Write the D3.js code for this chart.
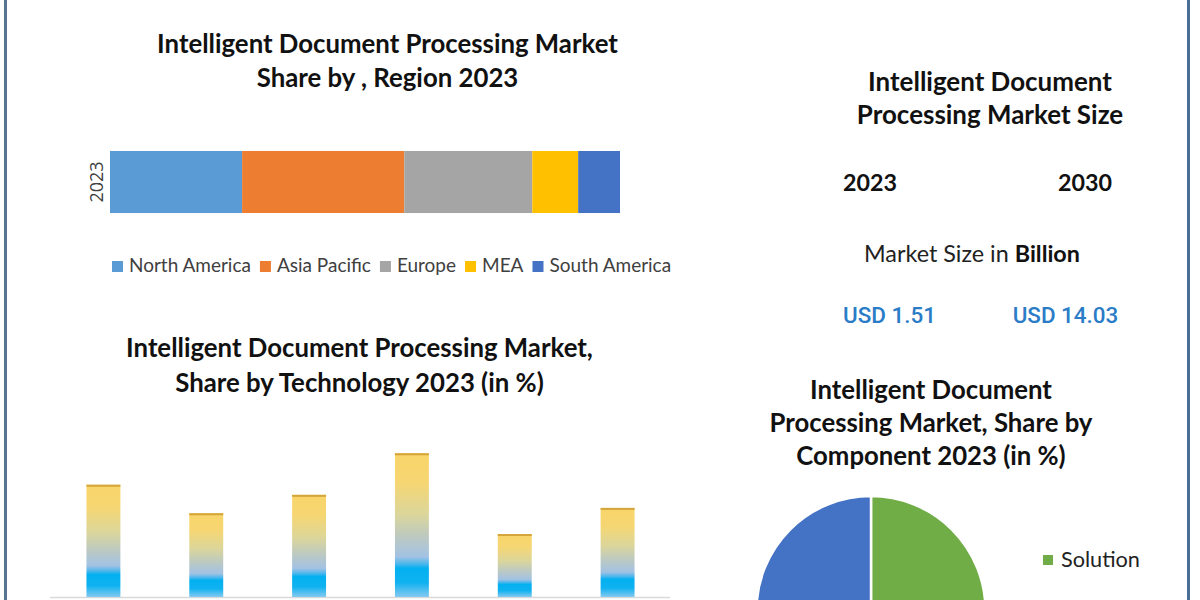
<!DOCTYPE html>
<html><head><meta charset="utf-8">
<script src="https://cdn.jsdelivr.net/npm/d3@7"></script>
<style>html,body{margin:0;padding:0;background:#fff;} svg{display:block;}</style>
</head><body><svg id="c" width="1200" height="600"></svg>
<script>
// ---------- data ----------
const regionYear = "2023";
const regionCategories = ["North America", "Asia Pacific", "Europe", "MEA", "South America"];
const regionShares = [25.9, 31.8, 25.1, 9.0, 8.2];

const techCategories = ["Tech A", "Tech B", "Tech C", "Tech D", "Tech E", "Tech F"];
const techShares = [18.9, 14.1, 17.2, 24.2, 10.6, 15.0];

const componentCategories = ["Solution", "Services"];
const componentShares = [50, 50];

const sizeYears = ["2023", "2030"];
const sizeValues = [1.51, 14.03];

// ---------- styles ----------
const regionColors = ["#5b9bd5", "#ed7d31", "#a5a5a5", "#ffc000", "#4472c4"];
const componentColors = ["#70ad47", "#4472c4"];
const F = "Lato, 'Open Sans', sans-serif";

const svg = d3.select("#c");
svg.append("rect").attr("width", 1200).attr("height", 600).attr("fill", "#ffffff");

// borders
svg.append("line").attr("x1", 5.5).attr("x2", 5.5).attr("y1", 0).attr("y2", 600)
  .attr("stroke", "#587590").attr("stroke-width", 3);
svg.append("line").attr("x1", 1188.5).attr("x2", 1188.5).attr("y1", 0).attr("y2", 600)
  .attr("stroke", "#4a6e96").attr("stroke-width", 3);

function fit(sel, target) {
  const fs = parseFloat(sel.attr("font-size"));
  const w = sel.node().getComputedTextLength();
  return fs * target / w;
}
function title(lines, cx, baselines, fitIdx, targetW) {
  const ts = lines.map((t, i) => svg.append("text").attr("x", cx).attr("y", baselines[i])
    .attr("text-anchor", "middle").attr("font-family", F).attr("font-weight", 700)
    .attr("font-size", 20).attr("fill", "#111").text(t));
  const fs = fit(ts[fitIdx], targetW);
  ts.forEach(t => t.attr("font-size", fs));
}

// ---------- Region stacked bar ----------
title(["Intelligent Document Processing Market", "Share by , Region 2023"], 387.5, [53, 87], 0, 461);

const xR = d3.scaleLinear().domain([0, 100]).range([110, 620]);
const yR = d3.scaleBand().domain([regionYear]).range([140, 224]).paddingInner(0).paddingOuter(0.177);
const row = { year: regionYear };
regionCategories.forEach((c, i) => row[c] = regionShares[i]);
const series = d3.stack().keys(regionCategories)([row]);
svg.append("g").selectAll("rect").data(series).join("rect")
  .attr("x", s => xR(s[0][0]))
  .attr("width", s => xR(s[0][1]) - xR(s[0][0]))
  .attr("y", s => yR(s[0].data.year))
  .attr("height", yR.bandwidth())
  .attr("fill", (s, i) => regionColors[i]);

const axR = svg.append("g").attr("transform", "translate(103,0)")
  .call(d3.axisLeft(yR).tickSize(0).tickPadding(0));
axR.select(".domain").remove();
axR.selectAll("text").attr("transform", "rotate(-90)").attr("x", 0).attr("y", 0).attr("dy", 0)
  .attr("text-anchor", "middle").attr("font-family", "'Open Sans', sans-serif")
  .attr("font-size", 18).attr("fill", "#404040");

// legend
const lg = svg.append("g");
let lx = 112;
const probe = lg.append("text").attr("font-family", F).attr("font-size", 18).text(regionCategories[0]);
const lfs = fit(probe, 122);
probe.remove();
regionCategories.forEach((c, i) => {
  lg.append("rect").attr("x", lx).attr("y", 261).attr("width", 11).attr("height", 11).attr("fill", regionColors[i]);
  const t = lg.append("text").attr("x", lx + 17).attr("y", 272).attr("font-family", F)
    .attr("font-size", lfs).attr("fill", "#404040").text(c);
  lx = lx + 17 + t.node().getComputedTextLength() + 9;
});

// ---------- Market size block ----------
title(["Intelligent Document", "Processing Market Size"], 990, [91, 124], 0, 244);
const yearX = [870, 1085];
const valX = [889.5, 1065.5];
const yt = sizeYears.map((y, i) => svg.append("text").attr("x", yearX[i]).attr("y", 191)
  .attr("text-anchor", "middle").attr("font-family", F).attr("font-weight", 700)
  .attr("font-size", 20).attr("fill", "#111").text(y));
const yfs = fit(yt[0], 54);
yt.forEach(t => t.attr("font-size", yfs));

const ms = svg.append("text").attr("x", 972).attr("y", 262).attr("text-anchor", "middle")
  .attr("font-family", F).attr("font-size", 20).attr("fill", "#222");
ms.append("tspan").text("Market Size in ");
ms.append("tspan").attr("font-weight", 700).attr("fill", "#111").text("Billion");
ms.attr("font-size", fit(ms, 216));

const vt = sizeValues.map((v, i) => svg.append("text").attr("x", valX[i]).attr("y", 323)
  .attr("text-anchor", "middle").attr("font-family", "Roboto, 'Liberation Sans', sans-serif")
  .attr("font-weight", 500).attr("font-size", 20).attr("fill", "#2a7cc7").text("USD " + v.toFixed(2)));
const vfs = fit(vt[0], 93);
vt.forEach(t => t.attr("font-size", vfs));

// ---------- Technology bars ----------
title(["Intelligent Document Processing Market,", "Share by Technology 2023 (in %)"], 359.5, [357, 392], 0, 467);

const defs = svg.append("defs");
const grad = defs.append("linearGradient").attr("id", "barGrad")
  .attr("x1", 0).attr("y1", 0).attr("x2", 0).attr("y2", 1);
[[0, "#f9d56a"], [0.2, "#f6d672"], [0.42, "#dcd69a"], [0.6, "#b9c8c6"], [0.72, "#a2c2e4"],
 [0.77, "#4ab6ec"], [0.8, "#03b0f0"], [0.9, "#10b2f0"], [1, "#86c9f0"]]
  .forEach(([o, c]) => grad.append("stop").attr("offset", o).attr("stop-color", c));

const xT = d3.scaleBand().domain(techCategories).range([52, 669]).paddingInner(0.67).paddingOuter(0.335);
const yT = d3.scaleLinear().domain([0, 100]).range([597, 3]);

svg.append("line").attr("x1", 50).attr("x2", 670).attr("y1", 597.5).attr("y2", 597.5)
  .attr("stroke", "#d9d9d9").attr("stroke-width", 1.5);

const tb = svg.append("g");
tb.selectAll("rect.bar").data(techShares).join("rect").attr("class", "bar")
  .attr("x", (d, i) => xT(techCategories[i]))
  .attr("width", xT.bandwidth())
  .attr("y", d => yT(d))
  .attr("height", d => yT(0) - yT(d))
  .attr("fill", "url(#barGrad)");
tb.selectAll("rect.cap").data(techShares).join("rect").attr("class", "cap")
  .attr("x", (d, i) => xT(techCategories[i]))
  .attr("width", xT.bandwidth())
  .attr("y", d => yT(d))
  .attr("height", 2)
  .attr("fill", "#d4a53a");

// ---------- Component pie ----------
title(["Intelligent Document", "Processing Market, Share by", "Component 2023 (in %)"], 931, [399, 432, 465], 1, 323);

const pie = d3.pie().sort(null).value(d => d);
const arc = d3.arc().innerRadius(0).outerRadius(114.5);
svg.append("g").attr("transform", "translate(871,610.5)")
  .selectAll("path").data(pie(componentShares)).join("path")
  .attr("d", arc).attr("fill", (d, i) => componentColors[i])
  .attr("stroke", "#fff").attr("stroke-width", 2.5);

svg.append("rect").attr("x", 1043).attr("y", 555).attr("width", 10).attr("height", 10).attr("fill", componentColors[0]);
const sl = svg.append("text").attr("x", 1061).attr("y", 567).attr("font-family", F)
  .attr("font-size", 20).attr("fill", "#222").text(componentCategories[0]);
sl.attr("font-size", fit(sl, 79));
</script>
</body></html>
